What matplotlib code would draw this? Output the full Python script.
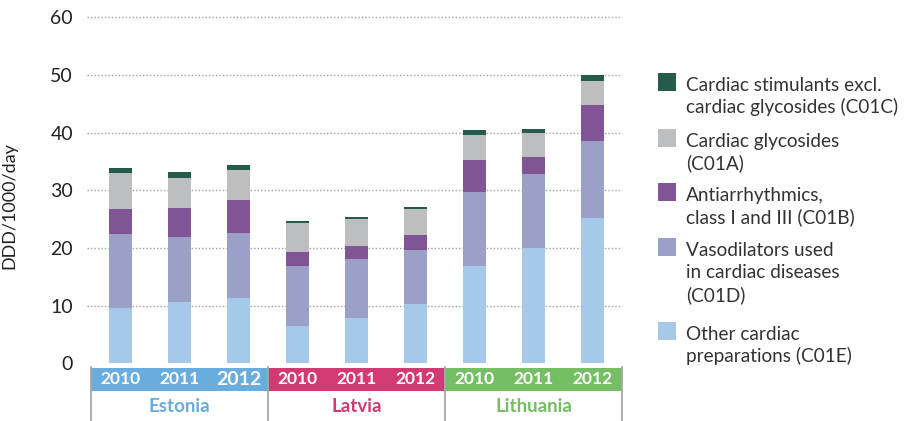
import matplotlib
matplotlib.use("Agg")
import matplotlib.pyplot as plt
from matplotlib.patches import Rectangle
from matplotlib.transforms import blended_transform_factory

plt.rcParams['font.family'] = ['Lato', 'DejaVu Sans']

countries = ["Estonia", "Latvia", "Lithuania"]
years = ["2010", "2011", "2012"]
country_colors = ["#68ADDE", "#D13A73", "#74BF63"]

series_names = [
    "Other cardiac\npreparations (C01E)",
    "Vasodilators used\nin cardiac diseases\n(C01D)",
    "Antiarrhythmics,\nclass I and III (C01B)",
    "Cardiac glycosides\n(C01A)",
    "Cardiac stimulants excl.\ncardiac glycosides (C01C)",
]
series_colors = ["#A6C9EA", "#9BA1C6", "#805495", "#BDBEBF", "#245B4A"]

# order: Estonia 2010-2012, Latvia 2010-2012, Lithuania 2010-2012
c01e = [9.6, 10.6, 11.3, 6.5, 7.9, 10.3, 16.9, 20.0, 25.2]
c01d = [12.8, 11.3, 11.3, 10.4, 10.2, 9.4, 12.8, 12.8, 13.3]
c01b = [4.4, 5.0, 5.7, 2.4, 2.2, 2.6, 5.5, 3.0, 6.3]
c01a = [6.2, 5.2, 5.2, 5.0, 4.7, 4.5, 4.4, 4.1, 4.2]
c01c = [0.9, 1.1, 0.9, 0.4, 0.4, 0.3, 0.8, 0.7, 1.0]
series = [c01e, c01d, c01b, c01a, c01c]

W, H = 905, 421
fig = plt.figure(figsize=(W / 100, H / 100), dpi=100)
ax = fig.add_axes([91 / W, 1 - 363.4 / H, (622 - 91) / W, 346.2 / H])

x = list(range(len(c01e)))
bottom = [0.0] * len(x)
for vals, col in zip(series, series_colors):
    ax.bar(x, vals, width=0.39, bottom=bottom, color=col, zorder=3)
    bottom = [b + v for b, v in zip(bottom, vals)]

ax.set_xlim(-0.5, 8.5)
ax.set_ylim(0, 60)
ax.set_yticks(range(0, 61, 10))
for yv in range(10, 61, 10):
    ax.axhline(yv, xmin=-0.008, xmax=1.0, color="#A0A0A0", lw=1.0,
               ls=(0, (1, 1.5)), zorder=1, clip_on=False)
for s in ax.spines.values():
    s.set_visible(False)
ax.tick_params(axis="y", length=0, pad=13, labelsize=14, labelcolor="#222222")
ax.tick_params(axis="x", length=0, labelbottom=False)
ax.set_ylabel("DDD/1000/day", fontsize=13, color="#222222")
ax.yaxis.set_label_coords(-0.138, 0.457)

tr = blended_transform_factory(ax.transData, ax.transAxes)
band_top = -4.6 / 346.2
band_bot = -27.6 / 346.2
for gi, (cn, cc) in enumerate(zip(countries, country_colors)):
    x0 = gi * 3 - 0.5
    ax.add_patch(Rectangle((x0, band_bot), 3, band_top - band_bot, transform=tr,
                           facecolor=cc, edgecolor="none", clip_on=False))
    for yi, yr in enumerate(years):
        fs = 14 if (gi == 0 and yi == 2) else 12.5
        ax.text(gi * 3 + yi, (band_top + band_bot) / 2, yr, transform=tr,
                ha="center", va="center", color="white", fontsize=fs,
                fontweight="bold", clip_on=False)
    ax.text(gi * 3 + 1, -43.5 / 346.2, cn, transform=tr, ha="center",
            va="center", color=cc, fontsize=13.5, fontweight="bold", clip_on=False)
for xb in [-0.5, 2.5, 5.5, 8.5]:
    ax.plot([xb, xb], [band_top + 1.5 / 346.2, -58 / 346.2], transform=tr,
            color="#A8A8A8", lw=1.3, clip_on=False, zorder=5)

# legend (top entry first)
sq_tops = [72.6, 128.5, 183.0, 238.0, 321.6]
leg_items = list(zip(series_names, series_colors))[::-1]
for (name, col), top in zip(leg_items, sq_tops):
    fig.add_artist(Rectangle((658 / W, 1 - (top + 18) / H), 18 / W, 18 / H,
                             transform=fig.transFigure, facecolor=col,
                             edgecolor="none"))
    for li, line in enumerate(name.split("\n")):
        fig.text(686 / W, 1 - (top + 18 + li * 22.5) / H, line, ha="left",
                 va="baseline", fontsize=13.7, color="#333333")

fig.savefig("out.png", dpi=100)
